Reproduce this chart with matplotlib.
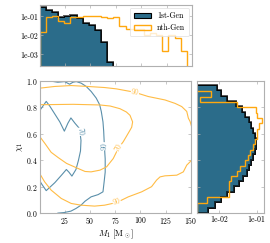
import numpy as np
import matplotlib
matplotlib.use("Agg")
import matplotlib.pyplot as plt
from matplotlib.patches import Patch
from matplotlib.ticker import FixedLocator, FixedFormatter, NullLocator

plt.rcParams["font.family"] = "serif"
plt.rcParams["font.serif"] = ["cmr10", "DejaVu Serif"]
plt.rcParams["mathtext.fontset"] = "cm"
plt.rcParams["axes.unicode_minus"] = False
plt.rcParams["axes.formatter.use_mathtext"] = True

# --- dados -------------------------------------------------------------------
# histograma de M1 (fração por bin)
m1_bins_1g = np.linspace(0.0, 72.7, 13)
m1_frac_1g = [0.305, 0.22, 0.166, 0.098, 0.11, 0.12, 0.086, 0.047, 0.036,
              0.0195, 0.0044, 0.00042]
m1_bins_ng = np.linspace(0.0, 145.0, 25)
m1_frac_ng = [0.016, 0.091, 0.106, 0.055, 0.048, 0.094, 0.094, 0.11, 0.10,
              0.10, 0.09, 0.083, 0.089, 0.032, 0.021, 0.021, 0.021, 0.0102,
              0.014, 0.0102, 0.0015, 0.0102, 0.0074, 0.0015]

# histograma de chi1 (fração por bin)
chi_bins_1g = np.linspace(0.0, 0.97, 25)
chi_frac_1g = [0.005, 0.0075, 0.011, 0.0165, 0.024, 0.034, 0.044, 0.054,
               0.062, 0.072, 0.081, 0.089, 0.094, 0.094, 0.09, 0.082, 0.072,
               0.062, 0.05, 0.04, 0.028, 0.016, 0.0109, 0.0085]
chi_bins_ng = np.linspace(0.0, 0.92, 24)
chi_frac_ng = [0.0026, 0.0026, 0.0046, 0.018, 0.018, 0.018, 0.021, 0.029,
               0.036, 0.049, 0.057, 0.066, 0.081, 0.09, 0.10, 0.104, 0.115,
               0.14, 0.104, 0.094, 0.029, 0.003, 0.0059]

# contornos (M1, chi1)
blue_70 = [(-2, 0.77), (0.5, 0.78), (6.5, 0.845), (10, 0.81), (15, 0.75),
           (20, 0.69), (24.5, 0.62), (28, 0.68), (31, 0.72), (35, 0.68),
           (39.5, 0.64), (41, 0.55), (40.5, 0.47), (38.5, 0.40), (36, 0.33),
           (32, 0.28), (29, 0.31), (26.5, 0.33), (22, 0.29), (15, 0.23),
           (6.5, 0.17), (2, 0.22), (-2, 0.27)]
blue_90 = [(8, 1.02), (10, 1.0), (18, 0.99), (24.7, 0.995), (29.7, 0.975),
           (33, 0.99), (36.3, 0.995), (41.2, 0.983), (46.2, 0.958),
           (51.1, 0.92), (56.1, 0.87), (59.5, 0.82), (61.1, 0.77),
           (62.8, 0.69), (63.5, 0.62), (64, 0.54), (64.5, 0.47), (65, 0.41),
           (65, 0.31), (64, 0.24), (62.8, 0.161), (58, 0.14), (51, 0.123),
           (45, 0.09), (41, 0.06), (36, 0.035), (31, 0.015), (24, 0.004),
           (18, 0.0), (15, -0.02)]
orange_70 = [(-2, 0.82), (0, 0.82), (33.3, 0.823), (60, 0.818), (70, 0.81),
             (79.6, 0.79), (86, 0.765), (89.6, 0.74), (92.2, 0.69),
             (91.3, 0.65), (89.6, 0.627), (86, 0.58), (82.9, 0.54),
             (78, 0.49), (73, 0.413), (66.4, 0.35), (59.8, 0.325),
             (51, 0.312), (45, 0.315), (38, 0.338), (26.7, 0.376),
             (18.4, 0.42), (11.4, 0.46), (5.2, 0.527), (0, 0.58), (-2, 0.60)]
orange_90 = [(-2, 0.945), (0, 0.945), (14.8, 0.958), (31.3, 0.965),
             (47.9, 0.958), (64.4, 0.95), (76, 0.94), (93.8, 0.915),
             (107.7, 0.882), (124.3, 0.856), (134.3, 0.83), (140.9, 0.806),
             (145.9, 0.769), (147.5, 0.718), (149.2, 0.693), (150.5, 0.66),
             (153, 0.6), (153, 0.45), (150.5, 0.40), (149.2, 0.388),
             (145.9, 0.363), (142.5, 0.312), (136, 0.287), (124.3, 0.282),
             (119.4, 0.274), (116, 0.25), (111, 0.20), (101.2, 0.161),
             (87.9, 0.123), (76.4, 0.08), (64.4, 0.06), (54.5, 0.053),
             (41.2, 0.06), (31.3, 0.073), (21.4, 0.111), (11.4, 0.174),
             (4.9, 0.237), (0, 0.30), (-2, 0.32)]
# rótulos dos contornos: texto, M1, chi1, rotação
blue_labels = [("70", 39.8, 0.615, -84), ("90", 64.3, 0.505, 88)]
orange_labels = [("90", 94.5, 0.913, -8), ("70", 78.5, 0.495, 60),
                 ("90", 76.5, 0.082, 17)]

hist_ticks = [1e-3, 1e-2, 1e-1]
hist_ticklabels = ["1e-03", "1e-02", "1e-01"]

# --- estilo -------------------------------------------------------------------
C_1G = "#2b6c8a"
C_NG = "#ffa80f"
C_C1 = "#5a8faa"
C_C2 = "#ffbc45"
SPINE = "#b0b0b0"
FS = 5.6

fig = plt.figure(figsize=(2.70, 2.43), dpi=100)
ax = fig.add_axes([0.148, 0.123, 0.559, 0.544])
ax_top = fig.add_axes([0.148, 0.730, 0.563, 0.251])
ax_right = fig.add_axes([0.729, 0.123, 0.250, 0.544])


def _estilo(a):
    for s in a.spines.values():
        s.set_color(SPINE)
        s.set_linewidth(0.8)
    a.tick_params(direction="in", length=2, width=0.5, color=SPINE,
                  labelsize=FS, pad=1.5, top=True, right=True)


for a in (ax, ax_top, ax_right):
    _estilo(a)

# histograma superior
ax_top.stairs(m1_frac_1g, m1_bins_1g, fill=True, baseline=1e-6,
              facecolor=C_1G, edgecolor=(0, 0, 0, 0.65), linewidth=1.4)
ax_top.stairs(m1_frac_1g, m1_bins_1g, fill=False, baseline=1e-6,
              color="black", linewidth=0.6)
ax_top.stairs(m1_frac_ng, m1_bins_ng, fill=False, baseline=1e-6,
              color=C_NG, linewidth=1.0)
ax_top.set_yscale("log")
ax_top.set_xlim(0.3, 150)
ax_top.set_ylim(2.6e-4, 0.42)
ax_top.yaxis.set_major_locator(FixedLocator(hist_ticks))
ax_top.yaxis.set_major_formatter(FixedFormatter(hist_ticklabels))
ax_top.yaxis.set_minor_locator(NullLocator())
ax_top.set_xticks([25, 50, 75, 100, 125, 150])
ax_top.tick_params(labelbottom=False)
leg = ax_top.legend(
    handles=[Patch(facecolor=C_1G, edgecolor="black", linewidth=0.8, label="1st-Gen"),
             Patch(facecolor="none", edgecolor=C_NG, linewidth=1.0, label="nth-Gen")],
    loc="upper right", fontsize=FS, frameon=True, handlelength=2.2,
    borderpad=0.5, labelspacing=0.5, handletextpad=0.8, borderaxespad=0.4)
leg.get_frame().set_edgecolor("#dddddd")
leg.get_frame().set_linewidth(0.6)

# histograma da direita
ax_right.stairs(chi_frac_1g, chi_bins_1g, fill=True, baseline=1e-6,
                orientation="horizontal", facecolor=C_1G,
                edgecolor=(0, 0, 0, 0.65), linewidth=1.4)
ax_right.stairs(chi_frac_1g, chi_bins_1g, fill=False, baseline=1e-6,
                orientation="horizontal", color="black", linewidth=0.6)
ax_right.stairs(chi_frac_ng, chi_bins_ng, fill=False, baseline=1e-6,
                orientation="horizontal", color=C_NG, linewidth=1.0)
ax_right.set_xscale("log")
ax_right.set_ylim(0, 1)
ax_right.set_xlim(2.5e-3, 0.16)
ax_right.xaxis.set_major_locator(FixedLocator(hist_ticks[1:]))
ax_right.xaxis.set_major_formatter(FixedFormatter(hist_ticklabels[1:]))
ax_right.xaxis.set_minor_locator(NullLocator())
ax_right.tick_params(labelleft=False)

# contornos
for caminho, cor in ((blue_70, C_C1), (blue_90, C_C1),
                     (orange_70, C_C2), (orange_90, C_C2)):
    xs, ys = zip(*caminho)
    ax.plot(xs, ys, color=cor, linewidth=0.8)
for rotulos, cor in ((blue_labels, C_C1), (orange_labels, C_C2)):
    for txt, x, y, rot in rotulos:
        ax.text(x, y, txt, color=cor, fontsize=FS, rotation=rot,
                ha="center", va="center", rotation_mode="anchor",
                bbox=dict(boxstyle="square,pad=0.05", facecolor="white",
                          edgecolor="none"))
ax.set_xlim(0.3, 150)
ax.set_ylim(0, 1)
ax.set_xticks([25, 50, 75, 100, 125, 150])
ax.set_yticks([0.0, 0.2, 0.4, 0.6, 0.8, 1.0])
ax.set_xlabel(r"$M_1\ [\mathrm{M}_\odot]$", fontsize=FS + 0.6, labelpad=1)
ax.set_ylabel(r"$\chi_1$", fontsize=FS + 0.6, labelpad=1)

fig.savefig("out.png", dpi=100)
